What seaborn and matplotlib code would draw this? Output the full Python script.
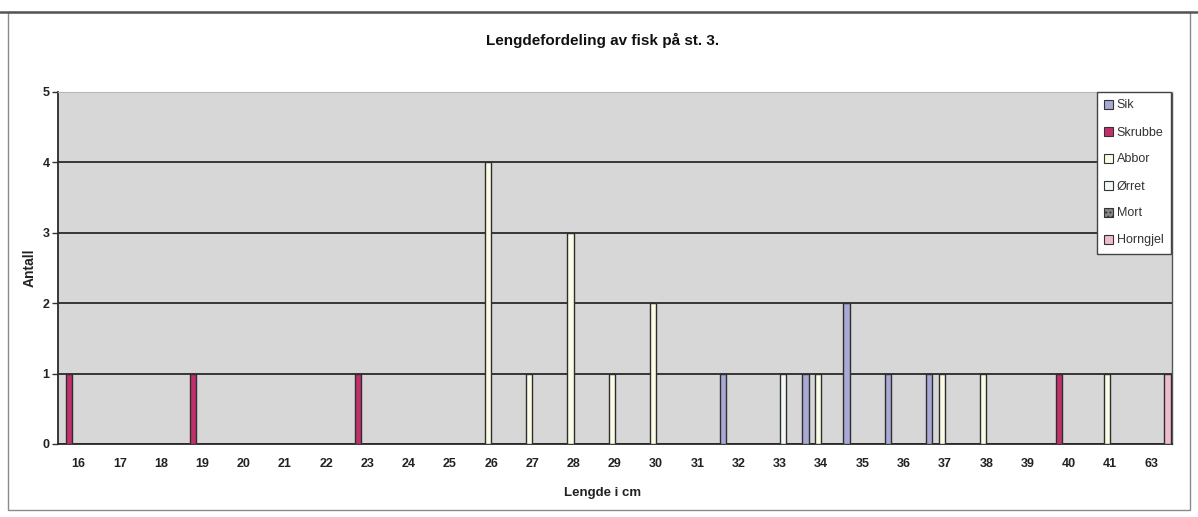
import matplotlib
matplotlib.use("Agg")
import matplotlib.pyplot as plt
import seaborn as sns
import pandas as pd
from matplotlib.patches import Rectangle, Patch

# ---- data ----
lengths = ['16', '17', '18', '19', '20', '21', '22', '23', '24', '25', '26', '27', '28',
           '29', '30', '31', '32', '33', '34', '35', '36', '37', '38', '39', '40', '41', '63']
species = ['Sik', 'Skrubbe', 'Abbor', 'Ørret', 'Mort', 'Horngjel']
sik      = [0, 0, 0, 0, 0, 0, 0, 0, 0, 0, 0, 0, 0, 0, 0, 0, 1, 0, 1, 2, 1, 1, 0, 0, 0, 0, 0]
skrubbe  = [1, 0, 0, 1, 0, 0, 0, 1, 0, 0, 0, 0, 0, 0, 0, 0, 0, 0, 0, 0, 0, 0, 0, 0, 1, 0, 0]
abbor    = [0, 0, 0, 0, 0, 0, 0, 0, 0, 0, 4, 1, 3, 1, 2, 0, 0, 0, 1, 0, 0, 1, 1, 0, 0, 1, 0]
orret    = [0, 0, 0, 0, 0, 0, 0, 0, 0, 0, 0, 0, 0, 0, 0, 0, 0, 1, 0, 0, 0, 0, 0, 0, 0, 0, 0]
mort     = [0, 0, 0, 0, 0, 0, 0, 0, 0, 0, 0, 0, 0, 0, 0, 0, 0, 0, 0, 0, 0, 0, 0, 0, 0, 0, 0]
horngjel = [0, 0, 0, 0, 0, 0, 0, 0, 0, 0, 0, 0, 0, 0, 0, 0, 0, 0, 0, 0, 0, 0, 0, 0, 0, 0, 1]
colors = ['#a9a9d6', '#c2306c', '#fbfbe6', '#f2f8f8', '#8a8a8a', '#f0bccb']

series = [sik, skrubbe, abbor, orret, mort, horngjel]
rows = []
for name, vals in zip(species, series):
    for L, v in zip(lengths, vals):
        rows.append({'Lengde': L, 'Antall': v, 'Art': name})
df = pd.DataFrame(rows)

sns.set_style("white")
plt.rcParams['font.family'] = ['Liberation Sans', 'DejaVu Sans']

fig = plt.figure(figsize=(11.98, 5.17), dpi=100)
ax = fig.add_axes([58 / 1198, 1 - 444 / 517, (1172 - 58) / 1198, (444 - 92) / 517])
ax.set_facecolor('#d7d7d7')

sns.barplot(data=df, x='Lengde', y='Antall', hue='Art', order=lengths, hue_order=species,
            palette=colors, width=0.93, dodge=True, edgecolor='#2e2e2e', linewidth=1.0,
            saturation=1, ax=ax, legend=False, zorder=3)

ax.set_ylim(0, 5)
ax.set_xlim(-0.5, len(lengths) - 0.5)
ax.set_yticks(range(0, 6))
ax.set_yticklabels([str(i) for i in range(0, 6)])
ax.yaxis.grid(True, color='#2a2a2a', linewidth=1.3, zorder=1)
ax.set_axisbelow(True)
ax.set_xlabel('')
ax.set_ylabel('')

# tick marks between categories
ax.set_xticks([i + 0.5 for i in range(-1, len(lengths))], minor=True)
ax.tick_params(axis='x', which='major', length=0, pad=10, labelsize=9, labelcolor='#222222')
ax.tick_params(axis='x', which='minor', length=4, width=1, color='#333333', direction='out')
ax.tick_params(axis='y', which='major', length=4, width=1, color='#333333', pad=2,
               labelsize=9, labelcolor='#222222', left=True, direction='out')
for lab in ax.get_xticklabels() + ax.get_yticklabels():
    lab.set_fontweight('bold')

for side in ['left', 'bottom']:
    ax.spines[side].set_color('#2a2a2a')
    ax.spines[side].set_linewidth(1.3)
ax.spines['top'].set_color('#b8b8b8')
ax.spines['right'].set_color('#555555')
ax.spines['right'].set_linewidth(1.0)

# legend
handles = []
for name, c in zip(species, colors):
    h = Patch(facecolor=c, edgecolor='#333333', linewidth=0.8, label=name,
              hatch='....' if name == 'Mort' else None)
    handles.append(h)
leg = ax.legend(handles=handles, loc='upper right', bbox_to_anchor=(0.999, 1.0),
                fontsize=9, frameon=True, fancybox=False, framealpha=1.0, handlelength=0.7,
                handleheight=0.7, handletextpad=0.3, labelspacing=1.2,
                borderpad=0.6, borderaxespad=0.0)
leg.get_frame().set_edgecolor('#444444')
leg.get_frame().set_facecolor('white')
leg.get_frame().set_linewidth(1.0)
for t in leg.get_texts():
    t.set_color('#333333')
leg.set_zorder(10)

# texts
fig.text(603 / 1198, 1 - 40 / 517, 'Lengdefordeling av fisk på st. 3.', ha='center', va='center',
         fontsize=11, fontweight='bold', color='#111111')
fig.text(30 / 1198, 1 - 268 / 517, 'Antall', ha='center', va='center', rotation=90,
         fontsize=10, fontweight='bold', color='#222222')
fig.text(603 / 1198, 1 - 493 / 517, 'Lengde i cm', ha='center', va='center',
         fontsize=9.5, fontweight='bold', color='#222222')

# outer chart border
fig.patches.append(Rectangle((8 / 1198, 7 / 517), (1190 - 8) / 1198, (505 - 7) / 517,
                             transform=fig.transFigure, fill=False, edgecolor='#8a8a8a',
                             linewidth=1.0))
fig.lines.append(plt.Line2D([0, 1], [1 - 12 / 517, 1 - 12 / 517], transform=fig.transFigure,
                            color='#555555', linewidth=1.8))

fig.savefig('out.png', dpi=100, facecolor='white')
